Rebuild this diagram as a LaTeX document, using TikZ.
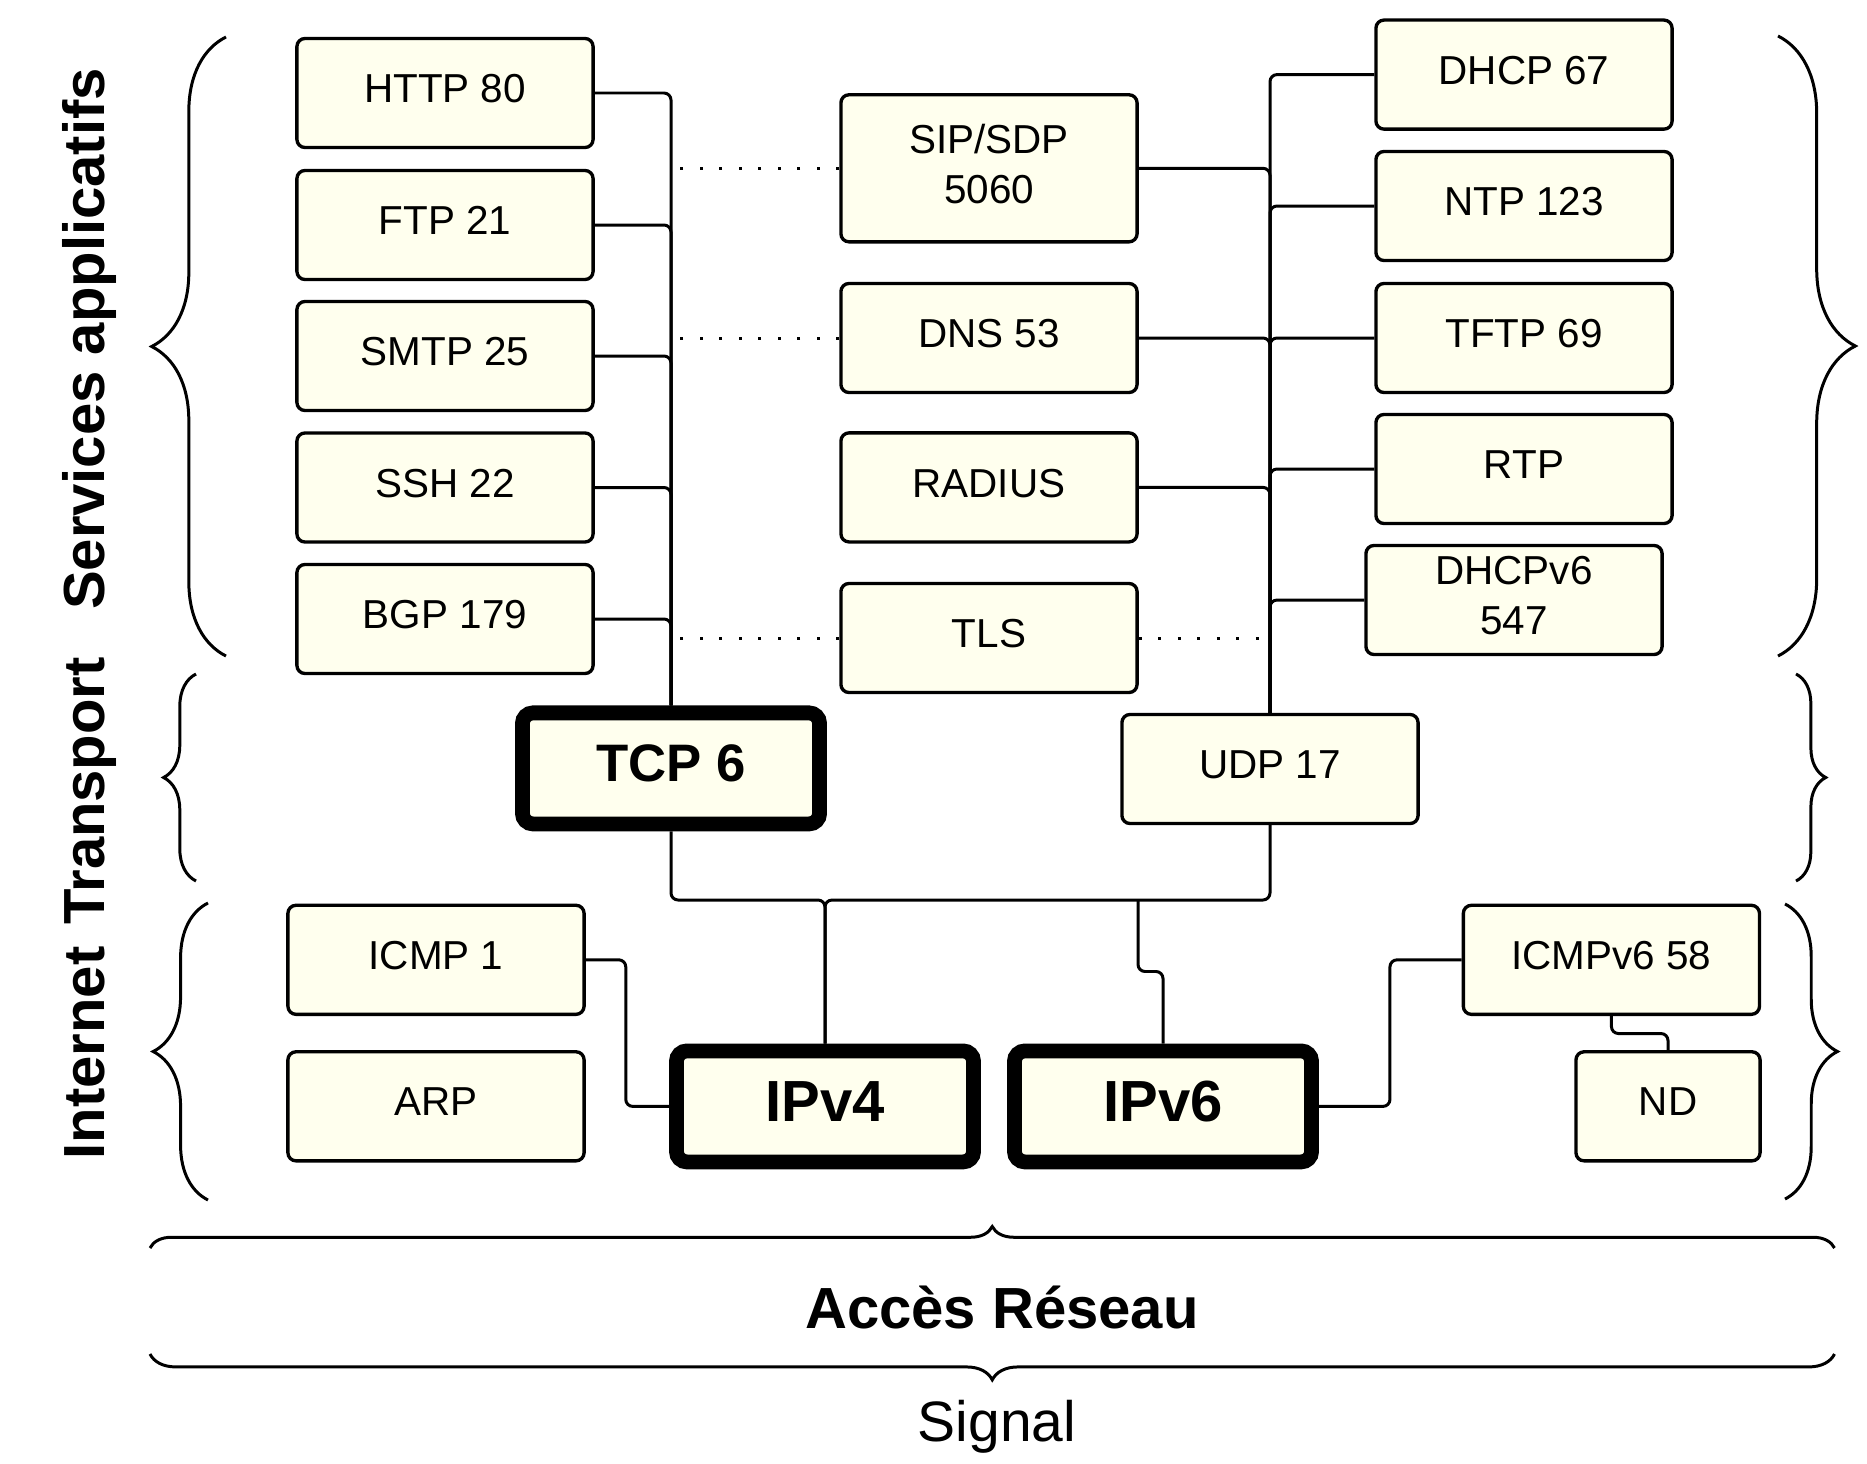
\documentclass[tikz,border=0pt]{standalone}
\usepackage{fontspec}
\setmainfont{Liberation Sans}
\usetikzlibrary{calc, decorations.pathreplacing}
\definecolor{cream}{RGB}{255, 255, 238}

\begin{document}
\begin{tikzpicture}[x=0.01cm, y=-0.01cm,
  box/.style={draw, line width=0.95pt, rounded corners=2.3pt, fill=cream,
              minimum width=2.96cm, minimum height=1.09cm, inner sep=2pt,
              align=center, text depth=0.25em, font=\fontsize{11.5}{14.2}\selectfont},
  core/.style={box, line width=4.2pt, rounded corners=3pt, minimum width=2.97cm,
               minimum height=1.11cm, text depth=0.3em},
  link/.style={line width=0.85pt, rounded corners=2pt},
  hint/.style={line width=0.85pt, dash pattern=on 0.85pt off 4.7pt},
  layer/.style={line width=0.85pt, decorate, decoration={brace, amplitude=#1}},
  side/.style={rotate=90, anchor=base, font=\fontsize{16.5}{19}\bfseries\selectfont},
]
\useasboundingbox (0,0) rectangle (1867,1463);

% Services applicatifs
\node[box] (http) at (445, 93) {HTTP 80};
\node[box] (ftp) at (445, 225) {FTP 21};
\node[box] (smtp) at (445, 356) {SMTP 25};
\node[box] (ssh) at (445, 487.5) {SSH 22};
\node[box] (bgp) at (445, 619) {BGP 179};

\node[box, minimum height=1.47cm] (sip) at (989, 168.3) {SIP/SDP\\5060};
\node[box] (dns) at (989, 338) {DNS 53};
\node[box] (radius) at (989, 487.4) {RADIUS};
\node[box] (tls) at (989, 638) {TLS};

\node[box] (dhcp) at (1524, 74.6) {DHCP 67};
\node[box] (ntp) at (1524, 206) {NTP 123};
\node[box] (tftp) at (1524, 338) {TFTP 69};
\node[box] (rtp) at (1524, 469) {RTP};
\node[box] (dhcpsix) at (1514, 600) {DHCPv6\\547};

% Transport
\node[core, font=\fontsize{15}{18}\bfseries\selectfont] (tcp) at (671, 768.4) {TCP 6};
\node[box] (udp) at (1270, 769) {UDP 17};

% Internet
\node[box] (icmp) at (436, 959.8) {ICMP 1};
\node[box] (arp) at (436, 1106.3) {ARP};
\node[core, font=\fontsize{16.5}{19}\bfseries\selectfont] (ipfour) at (825, 1106.4) {IPv4};
\node[core, font=\fontsize{16.5}{19}\bfseries\selectfont] (ipsix) at (1163, 1106.4) {IPv6};
\node[box] (icmpsix) at (1611.4, 959.8) {ICMPv6 58};
\node[box, minimum width=1.84cm] (nd) at (1668, 1106.3) {ND};

% Links
\foreach \app in {http, ftp, smtp, ssh, bgp}
  \draw[link] (\app.east) -| (tcp.north);
\foreach \app in {sip, dns, radius}
  \draw[link] (\app.east) -| (udp.north);
\foreach \app in {dhcp, ntp, tftp, rtp, dhcpsix}
  \draw[link] (\app.west) -| (udp.north);

\foreach \app in {sip, dns, tls}
  \draw[hint] (\app.west) -- ($(\app.west -| tcp.north) + (7,0)$);
\draw[hint] (tls.east) -- ($(tls.east -| udp.north) + (-8,0)$);

\coordinate (ipbus) at (825, 900);
\coordinate (sixtap) at (1138, 900);
\draw[link] (tcp.south) |- (ipbus) -- (ipfour.north);
\draw[link] (udp.south) |- (ipbus) -- (ipfour.north);
\draw[link] (ipsix.north) -- ++(0,-72) -| (sixtap);

\draw[link] (icmp.east) -- ++(40,0) |- (ipfour.west);
\draw[link] (ipsix.east) -- ++(71,0) |- (icmpsix.west);
\draw[link] (icmpsix.south) -- ++(0,17.5) -| (nd.north);

% Layers
\draw[layer=0.743cm] (226, 656) -- (226, 37);
\draw[layer=0.324cm] (196, 881) -- (196, 674);
\draw[layer=0.548cm] (208, 1200) -- (208, 903);
\draw[layer=0.773cm] (1778, 36) -- (1778, 656);
\draw[layer=0.297cm] (1796, 674) -- (1796, 881);
\draw[layer=0.524cm] (1785, 904) -- (1785, 1199);
\draw[layer=0.215cm] (150, 1248) -- (1834.5, 1248);
\draw[layer=0.258cm] (1834.5, 1354) -- (150, 1354);

\node[side] (svc) at (104.5, 339) {Services applicatifs};
\node[side] (trans) at (104.5, 791) {Transport};
\node[side] (inet) at (104.5, 1053) {Internet};

\node[anchor=base, font=\fontsize{16.5}{19}\bfseries\selectfont] (acces) at (1002, 1328.3) {Accès Réseau};
\node[anchor=base, font=\fontsize{16.2}{19}\selectfont] (signal) at (997, 1441.7) {Signal};
\end{tikzpicture}
\end{document}
